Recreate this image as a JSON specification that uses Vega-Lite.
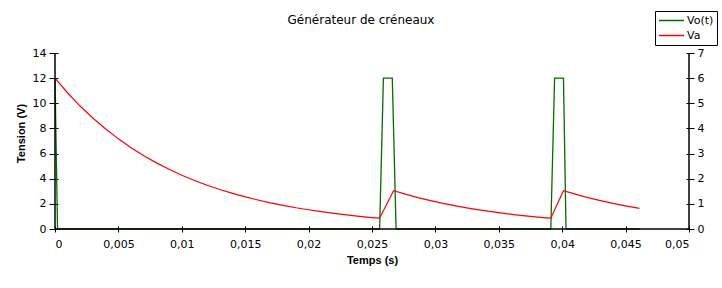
{
  "$schema": "https://vega.github.io/schema/vega-lite/v6.json",
  "width": 634,
  "height": 176,
  "autosize": {"type": "none"},
  "padding": {"left": 55, "top": 53, "right": 33, "bottom": 59},
  "background": "white",
  "title": {
    "text": "Générateur de créneaux",
    "font": "DejaVu Sans",
    "fontSize": 12,
    "fontWeight": "normal",
    "color": "black",
    "anchor": "middle",
    "baseline": "alphabetic",
    "dx": -11,
    "offset": -25
  },
  "config": {
    "view": {"stroke": null},
    "axis": {
      "labelFont": "DejaVu Sans",
      "labelFontSize": 11,
      "labelColor": "black",
      "tickColor": "black",
      "tickWidth": 1,
      "grid": false,
      "titleFont": "Liberation Sans",
      "titleFontSize": 11,
      "titleFontWeight": "bold",
      "titleColor": "black"
    }
  },
  "datasets": {
    "va": [
      {"t": 0, "Va": 12}, {"t": 0.001, "Va": 10.82}, {"t": 0.002, "Va": 9.76}, {"t": 0.003, "Va": 8.81},
      {"t": 0.004, "Va": 7.95}, {"t": 0.005, "Va": 7.17}, {"t": 0.006, "Va": 6.46}, {"t": 0.007, "Va": 5.83},
      {"t": 0.008, "Va": 5.26}, {"t": 0.009, "Va": 4.75}, {"t": 0.01, "Va": 4.28}, {"t": 0.011, "Va": 3.86},
      {"t": 0.012, "Va": 3.48}, {"t": 0.013, "Va": 3.14}, {"t": 0.014, "Va": 2.83}, {"t": 0.015, "Va": 2.56},
      {"t": 0.016, "Va": 2.31}, {"t": 0.017, "Va": 2.08}, {"t": 0.018, "Va": 1.88}, {"t": 0.019, "Va": 1.69},
      {"t": 0.02, "Va": 1.53}, {"t": 0.021, "Va": 1.38}, {"t": 0.022, "Va": 1.24}, {"t": 0.023, "Va": 1.12},
      {"t": 0.024, "Va": 1.01}, {"t": 0.025, "Va": 0.91}, {"t": 0.0256, "Va": 0.86}, {"t": 0.0267, "Va": 3.05},
      {"t": 0.0277, "Va": 2.75}, {"t": 0.0287, "Va": 2.48}, {"t": 0.0297, "Va": 2.24}, {"t": 0.0307, "Va": 2.02},
      {"t": 0.0317, "Va": 1.82}, {"t": 0.0327, "Va": 1.64}, {"t": 0.0337, "Va": 1.48}, {"t": 0.0347, "Va": 1.34},
      {"t": 0.0357, "Va": 1.21}, {"t": 0.0367, "Va": 1.09}, {"t": 0.0377, "Va": 0.98}, {"t": 0.0387, "Va": 0.89},
      {"t": 0.0391, "Va": 0.86}, {"t": 0.0401, "Va": 3.05}, {"t": 0.0411, "Va": 2.75}, {"t": 0.0421, "Va": 2.48},
      {"t": 0.0431, "Va": 2.24}, {"t": 0.0441, "Va": 2.02}, {"t": 0.0451, "Va": 1.82}, {"t": 0.0461, "Va": 1.64}
    ],
    "vo": [
      {"t": 0, "Vo": 6}, {"t": 0.0002, "Vo": 0}, {"t": 0.0256, "Vo": 0}, {"t": 0.0259, "Vo": 6},
      {"t": 0.0266, "Vo": 6}, {"t": 0.0269, "Vo": 0}, {"t": 0.0391, "Vo": 0}, {"t": 0.0394, "Vo": 6},
      {"t": 0.0401, "Vo": 6}, {"t": 0.0403, "Vo": 0}, {"t": 0.0461, "Vo": 0}
    ],
    "one": [{"k": 1}]
  },
  "layer": [
    {
      "data": {"name": "vo"},
      "mark": {"type": "line", "strokeWidth": 1.3},
      "encoding": {
        "x": {
          "field": "t", "type": "quantitative",
          "scale": {"domain": [0, 0.05]},
          "axis": {
            "values": [0, 0.005, 0.01, 0.015, 0.02, 0.025, 0.03, 0.035, 0.04, 0.045, 0.05],
            "labelExpr": "replace(format(datum.value, '~g'), '.', ',')",
            "title": "Temps (s)",
            "domain": false,
            "offset": -3,
            "tickSize": 6,
            "labelPadding": 6,
            "titleY": 34,
            "titleBaseline": "middle"
          }
        },
        "y": {
          "field": "Vo", "type": "quantitative",
          "scale": {"domain": [0, 7]},
          "axis": {
            "orient": "right",
            "values": [0, 1, 2, 3, 4, 5, 6, 7],
            "domain": false,
            "offset": -3,
            "tickSize": 8,
            "labelPadding": 3,
            "title": null
          }
        },
        "color": {
          "datum": "Vo(t)", "type": "nominal",
          "scale": {"domain": ["Vo(t)", "Va"], "range": ["#006e00", "#ff0000"]},
          "legend": {
            "orient": "none",
            "legendX": 600,
            "legendY": -42,
            "title": null,
            "strokeColor": "black",
            "fillColor": "white",
            "padding": 3,
            "symbolType": "stroke",
            "symbolSize": 625,
            "symbolStrokeWidth": 1.5,
            "clipHeight": 13,
            "labelFont": "DejaVu Sans",
            "labelFontSize": 11,
            "labelColor": "black",
            "labelOffset": 2,
            "rowPadding": 2
          }
        }
      }
    },
    {
      "data": {"name": "va"},
      "mark": {"type": "line", "strokeWidth": 1.2},
      "encoding": {
        "x": {"field": "t", "type": "quantitative"},
        "y": {
          "field": "Va", "type": "quantitative",
          "scale": {"domain": [0, 14]},
          "axis": {
            "orient": "left",
            "values": [0, 2, 4, 6, 8, 10, 12, 14],
            "domain": false,
            "offset": -3,
            "tickSize": 9,
            "labelPadding": 3,
            "title": "Tension (V)",
            "titleX": -37,
            "titleY": 80,
            "titleAlign": "center",
            "titleBaseline": "middle",
            "titleAngle": -90
          }
        },
        "color": {"datum": "Va", "type": "nominal"}
      }
    },
    {
      "data": {"name": "one"},
      "mark": {"type": "rule", "color": "black", "strokeWidth": 1.5},
      "encoding": {"x": {"datum": 0, "type": "quantitative"}}
    },
    {
      "data": {"name": "one"},
      "mark": {"type": "rule", "color": "black", "strokeWidth": 1.5},
      "encoding": {"x": {"datum": 0.05, "type": "quantitative"}}
    },
    {
      "data": {"name": "one"},
      "mark": {"type": "rule", "color": "black", "strokeWidth": 1.5},
      "encoding": {"y": {"datum": 0, "type": "quantitative", "scale": {"domain": [0, 14]}, "axis": null}}
    }
  ],
  "resolve": {"scale": {"y": "independent"}, "axis": {"y": "independent"}}
}
